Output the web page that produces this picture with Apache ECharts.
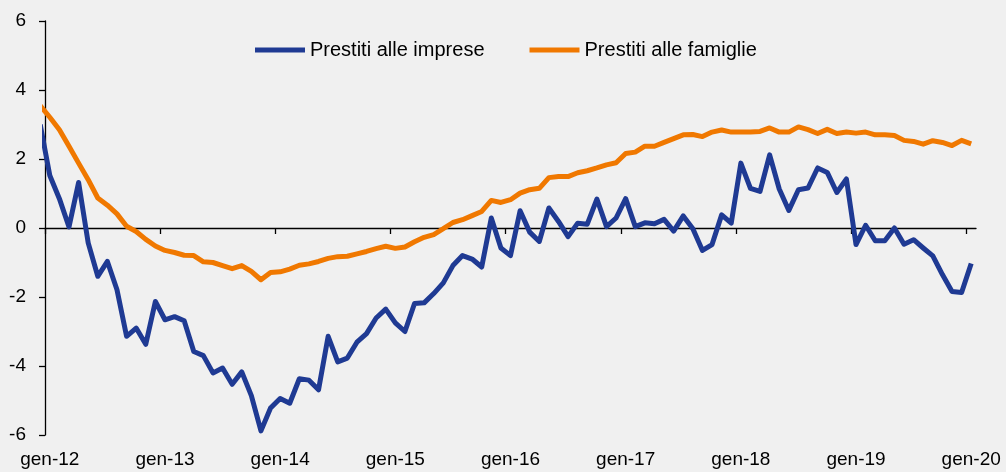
<!DOCTYPE html>
<html>
<head>
<meta charset="utf-8">
<script src="https://cdn.jsdelivr.net/npm/echarts@6/dist/echarts.min.js"></script>
<style>
  html, body { margin: 0; padding: 0; background: #f0f0f0; }
  #chart { width: 1006px; height: 472px; }
</style>
</head>
<body>
<div id="chart"></div>
<script>
// dati mensili da dic-11 a gen-20 (dic-11 cade fuori dall'asse, serve solo per il tratto iniziale)
var imprese = [
  3.00,
  1.52, 0.85, 0.03, 1.32, -0.43, -1.40, -0.97, -1.79, -3.14, -2.90, -3.37, -2.13,
  -2.66, -2.57, -2.69, -3.58, -3.70, -4.20, -4.06, -4.53, -4.17, -4.86, -5.88, -5.22,
  -4.94, -5.08, -4.37, -4.41, -4.69, -3.14, -3.88, -3.77, -3.31, -3.06, -2.61, -2.35,
  -2.75, -3.00, -2.19, -2.17, -1.90, -1.59, -1.09, -0.80, -0.90, -1.13, 0.29, -0.58,
  -0.80, 0.50, -0.12, -0.39, 0.58, 0.19, -0.25, 0.14, 0.11, 0.84, 0.04, 0.29,
  0.85, 0.04, 0.15, 0.12, 0.25, -0.09, 0.35, -0.02, -0.65, -0.48, 0.38, 0.14,
  1.88, 1.15, 1.06, 2.12, 1.13, 0.51, 1.11, 1.16, 1.74, 1.61, 1.03, 1.42,
  -0.48, 0.08, -0.37, -0.37, 0.00, -0.47, -0.34, -0.58, -0.81, -1.35, -1.84, -1.87,
  -1.03
];
var famiglie = [
  3.55,
  3.21, 2.85, 2.37, 1.88, 1.40, 0.87, 0.66, 0.41, 0.05, -0.10, -0.33, -0.52,
  -0.65, -0.71, -0.79, -0.80, -0.98, -1.00, -1.09, -1.18, -1.09, -1.26, -1.50, -1.29,
  -1.27, -1.19, -1.08, -1.04, -0.97, -0.88, -0.83, -0.82, -0.75, -0.68, -0.60, -0.53,
  -0.59, -0.55, -0.40, -0.27, -0.19, -0.02, 0.16, 0.24, 0.36, 0.48, 0.80, 0.74,
  0.82, 1.01, 1.11, 1.15, 1.46, 1.49, 1.49, 1.60, 1.66, 1.74, 1.83, 1.89,
  2.16, 2.20, 2.37, 2.37, 2.48, 2.59, 2.70, 2.71, 2.65, 2.78, 2.84, 2.78,
  2.78, 2.78, 2.80, 2.90, 2.78, 2.78, 2.93, 2.85, 2.74, 2.86, 2.74, 2.78,
  2.75, 2.78, 2.70, 2.70, 2.68, 2.54, 2.51, 2.43, 2.53, 2.48, 2.39, 2.54,
  2.44
];
var xLabels = ['gen-12', 'gen-13', 'gen-14', 'gen-15', 'gen-16', 'gen-17', 'gen-18', 'gen-19', 'gen-20'];
var seriesNames = ['Prestiti alle imprese', 'Prestiti alle famiglie'];

var FONT = '"Liberation Sans", Arial, sans-serif';
var chart = echarts.init(document.getElementById('chart'));

// ogni mese occupa un'unità sull'asse x, il punto sta a metà del mese
function toPoints(arr) {
  return arr.map(function (v, i) { return [i - 0.5, v]; });
}
var tickPos = xLabels.map(function (l, i) { return i * 12; });
var labelPos = xLabels.map(function (l, i) { return i * 12 + 0.5; });

var option = {
  backgroundColor: '#f0f0f0',
  animation: false,
  textStyle: { fontFamily: FONT, color: '#000' },
  grid: { left: 45, right: 30, top: 21, bottom: 37 },
  legend: {
    left: 250,
    top: 35,
    itemWidth: 50,
    itemHeight: 5,
    itemGap: 45,
    icon: 'rect',
    textStyle: { fontSize: 20, color: '#000', fontFamily: FONT },
    data: seriesNames
  },
  xAxis: [{
    type: 'value',
    min: 0,
    max: 97,
    axisLine: { onZero: true, lineStyle: { color: '#000', width: 1.3 } },
    axisTick: { show: true, length: 6, customValues: tickPos, lineStyle: { color: '#000', width: 1.3 } },
    axisLabel: { show: false },
    splitLine: { show: false }
  }, {
    type: 'value',
    min: 0,
    max: 97,
    position: 'bottom',
    axisLine: { show: false, onZero: false },
    axisTick: { show: false },
    axisLabel: {
      customValues: labelPos,
      fontSize: 19,
      color: '#000',
      margin: 15,
      formatter: function (v) { return xLabels[Math.round((v - 0.5) / 12)]; }
    },
    splitLine: { show: false }
  }],
  yAxis: {
    type: 'value',
    min: -6,
    max: 6,
    interval: 2,
    axisLine: { show: true, lineStyle: { color: '#000', width: 1.3 } },
    axisTick: { show: true, length: 6, lineStyle: { color: '#000', width: 1.3 } },
    axisLabel: { fontSize: 19, color: '#000', margin: 19 },
    splitLine: { show: false }
  },
  series: [{
    name: seriesNames[0],
    type: 'line',
    xAxisIndex: 0,
    data: toPoints(imprese),
    symbol: 'none',
    clip: true,
    color: '#1f3a93',
    lineStyle: { width: 5, color: '#1f3a93', join: 'round', cap: 'butt' }
  }, {
    name: seriesNames[1],
    type: 'line',
    xAxisIndex: 0,
    data: toPoints(famiglie),
    symbol: 'none',
    clip: true,
    color: '#f07800',
    lineStyle: { width: 5, color: '#f07800', join: 'round', cap: 'butt' }
  }]
};

chart.setOption(option);
</script>
</body>
</html>
